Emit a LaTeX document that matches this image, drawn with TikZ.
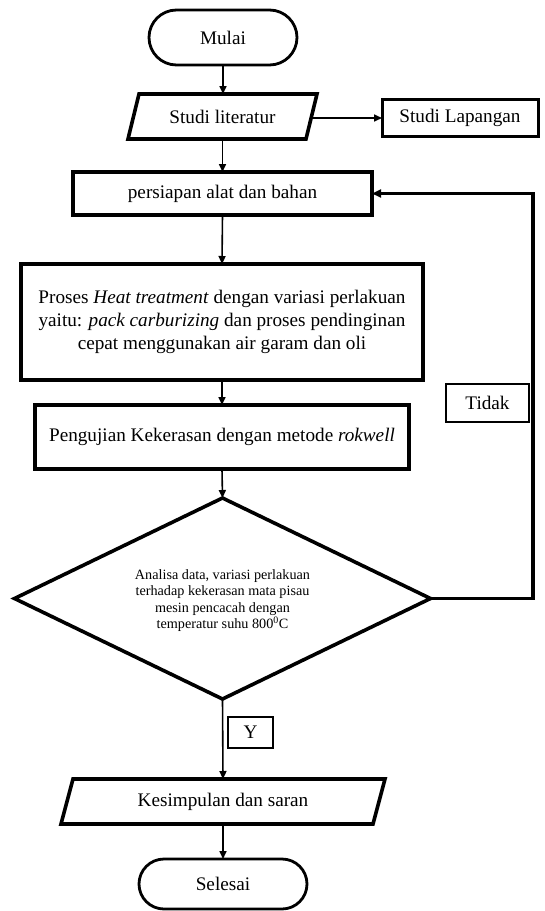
\documentclass[tikz,border=0pt]{standalone}
\usepackage{fontspec}
\setmainfont{Liberation Serif}
\usetikzlibrary{arrows.meta,shapes.geometric,shapes.misc}
\begin{document}
\begin{tikzpicture}[x=1pt,y=-1pt,
  every node/.style={inner sep=0pt, outer sep=0pt, font=\fontsize{19.2}{23}\selectfont},
  term/.style={rounded rectangle, draw, line width=2.8pt},
  box/.style={rectangle, draw, line width=3.6pt},
  iotext/.style={rectangle},
  iobord/.style={line width=3.6pt, line join=miter},
  thinbox/.style={rectangle, draw, line width=1.6pt},
  dec/.style={diamond, draw, line width=3.6pt, inner sep=0pt},
  dectext/.style={font=\fontsize{14.2}{16.5}\selectfont, align=center},
  arr/.style={line width=1.6pt, -{Triangle[length=8pt,width=7pt]}},
  fbline/.style={line width=3.4pt, -{Triangle[length=9pt,width=8pt]}}
]
\useasboundingbox (0,0) rectangle (545,911);
\fill[white] (0,0) rectangle (545,911);

\node[term, minimum width=148, minimum height=55] (start) at (223,37.5) {Mulai};

\node[iotext, minimum width=178, minimum height=45] (lit) at (222.5,116.5) {Studi literatur};
\draw[iobord] ([xshift=5.5]lit.north west) -- ([xshift=5.5]lit.north east) -- ([xshift=-5.5]lit.south east) -- ([xshift=-5.5]lit.south west) -- cycle;

\node[box, line width=3pt, minimum width=156, minimum height=37] (lap) at (460,118) {Studi Lapangan};

\node[box, minimum width=299, minimum height=43] (prep) at (222.5,193.5) {persiapan alat dan bahan};

\node[box, minimum width=402, minimum height=116, align=center] (heat) at (222,322)
  {Proses \textit{Heat treatment} dengan variasi perlakuan\\
   yaitu: \textit{pack carburizing} dan proses pendinginan\\
   cepat menggunakan air garam dan oli};

\node[box, minimum width=374, minimum height=64] (test) at (222,437) {Pengujian Kekerasan dengan metode \textit{rokwell}};

\node[dec, minimum width=416, minimum height=201] (ana) at (222.5,598.5) {};
\node[dectext] (anatext) at ([yshift=-2]ana.center)
  {Analisa data, variasi perlakuan\\
   terhadap kekerasan mata pisau\\
   mesin pencacah dengan\\
   temperatur suhu 800\textsuperscript{0}C};

\node[thinbox, minimum width=83, minimum height=38] (tidak) at (487.5,403) {Tidak};
\node[thinbox, minimum width=45, minimum height=31] (y) at (250.5,732.5) {Y};

\node[iotext, minimum width=312, minimum height=45] (kes) at (223,801.5) {Kesimpulan dan saran};
\draw[iobord] ([xshift=6]kes.north west) -- ([xshift=6]kes.north east) -- ([xshift=-6]kes.south east) -- ([xshift=-6]kes.south west) -- cycle;

\node[term, minimum width=168, minimum height=50] (end) at (223,884) {Selesai};

\coordinate (fb) at (533,598.5);

\draw[arr] (start.south) -- (start.south |- lit.north);
\draw[arr] (lit.south) -- (prep.north);
\draw[arr] (lit.east |- lap.west) -- (lap.west);
\draw[arr] (prep.south) -- (heat.north);
\draw[arr] (heat.south) -- (test.north);
\draw[arr] (test.south) -- (ana.north);
\draw[arr] (ana.south) -- (kes.north);
\draw[arr] (kes.south) -- (end.north);
\draw[fbline] (ana.east) -- (fb) |- (prep.east);
\end{tikzpicture}
\end{document}
